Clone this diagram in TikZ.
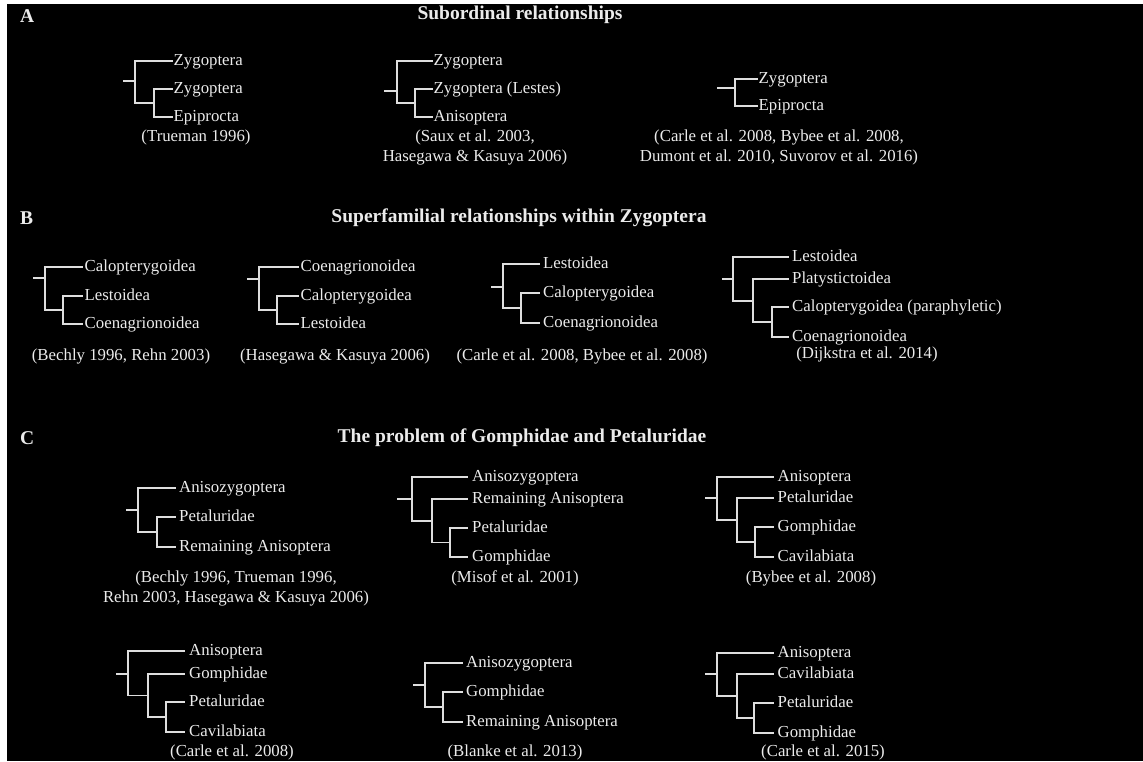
\documentclass[tikz,border=0pt]{standalone}
\usepackage{fontspec}
\setmainfont{Liberation Serif}
\definecolor{linec}{gray}{0.87}
\definecolor{txtc}{gray}{0.92}
\tikzset{
  br/.style={draw=linec, line width=1.8pt, line cap=rect},
  tx/.style={text=txtc, font=\fontsize{16.8}{20}\selectfont, inner sep=0pt},
  leaf/.style={tx, anchor=west, text height=9.4pt, text depth=0pt, inner xsep=2.5pt, inner ysep=0pt},
  cite/.style={tx, align=center},
  head/.style={text=txtc, font=\bfseries\fontsize{19.5}{22}\selectfont, inner sep=0pt},
}
\begin{document}
\begin{tikzpicture}[x=1pt,y=-1pt]
\useasboundingbox (0,0) rectangle (1143,761);
\fill[white] (0,0) rectangle (1143,761);
\fill[black] (7,4) rectangle (1143,761);

% ---------- Panel A ----------
\node[head, anchor=west] (pA) at (20,16) {A};
\node[head] (tA) at (520,15) {Subordinal relationships};

% A1
\coordinate (a1r) at (124,81);
\coordinate (a1n1) at (135,82);
\coordinate (a1n2) at (154,103);
\node[leaf, inner xsep=1.5pt] (a1a) at (172,61) {Zygoptera};
\node[leaf, inner xsep=1.5pt] (a1b) at (172,89) {Zygoptera};
\node[leaf, inner xsep=1.5pt] (a1c) at (172,117) {Epiprocta};
\draw[br] (a1a.west) -| (a1n1) |- (a1n2);
\draw[br] (a1b.west) -| (a1n2) |- (a1c.west);
\draw[br] (a1r) -- (a1r -| a1n1);
\node[cite] (a1t) at (196,137) {(Trueman 1996)};

% A2
\coordinate (a2r) at (385,91);
\coordinate (a2n1) at (397,82);
\coordinate (a2n2) at (415,103);
\node[leaf, inner xsep=1.5pt] (a2a) at (432,61) {Zygoptera};
\node[leaf, inner xsep=1.5pt] (a2b) at (432,89) {Zygoptera (Lestes)};
\node[leaf, inner xsep=1.5pt] (a2c) at (432,117) {Anisoptera};
\draw[br] (a2a.west) -| (a2n1) |- (a2n2);
\draw[br] (a2b.west) -| (a2n2) |- (a2c.west);
\draw[br] (a2r) -- (a2r -| a2n1);
\node[cite] (a2t) at (475,147) {(Saux et al. 2003,\\Hasegawa \& Kasuya 2006)};

% A3
\coordinate (a3r) at (718,88);
\coordinate (a3n1) at (735,92.5);
\node[leaf, inner xsep=1.5pt] (a3a) at (757,79) {Zygoptera};
\node[leaf, inner xsep=1.5pt] (a3b) at (757,106) {Epiprocta};
\draw[br] (a3a.west) -| (a3n1) |- (a3b.west);
\draw[br] (a3r) -- (a3r -| a3n1);
\node[cite] (a3t) at (779,147) {(Carle et al. 2008, Bybee et al. 2008,\\Dumont et al. 2010, Suvorov et al. 2016)};

% ---------- Panel B ----------
\node[head, anchor=west] (pB) at (20,218) {B};
\node[head] (tB) at (519,218) {Superfamilial relationships within Zygoptera};

% B1
\coordinate (b1r) at (34,278);
\coordinate (b1n1) at (45,288);
\coordinate (b1n2) at (63,310);
\node[leaf] (b1a) at (82,267) {Calopterygoidea};
\node[leaf] (b1b) at (82,296) {Lestoidea};
\node[leaf] (b1c) at (82,324) {Coenagrionoidea};
\draw[br] (b1a.west) -| (b1n1) |- (b1n2);
\draw[br] (b1b.west) -| (b1n2) |- (b1c.west);
\draw[br] (b1r) -- (b1r -| b1n1);
\node[cite] (b1t) at (121,356) {(Bechly 1996, Rehn 2003)};

% B2
\coordinate (b2r) at (248,279);
\coordinate (b2n1) at (259,288);
\coordinate (b2n2) at (277,310);
\node[leaf] (b2a) at (298,267) {Coenagrionoidea};
\node[leaf] (b2b) at (298,296) {Calopterygoidea};
\node[leaf] (b2c) at (298,324) {Lestoidea};
\draw[br] (b2a.west) -| (b2n1) |- (b2n2);
\draw[br] (b2b.west) -| (b2n2) |- (b2c.west);
\draw[br] (b2r) -- (b2r -| b2n1);
\node[cite] (b2t) at (335,356) {(Hasegawa \& Kasuya 2006)};

% B3
\coordinate (b3r) at (492,287);
\coordinate (b3n1) at (503,286);
\coordinate (b3n2) at (521,308);
\node[leaf, inner xsep=4pt] (b3a) at (539,264) {Lestoidea};
\node[leaf, inner xsep=4pt] (b3b) at (539,293) {Calopterygoidea};
\node[leaf, inner xsep=4pt] (b3c) at (539,323) {Coenagrionoidea};
\draw[br] (b3a.west) -| (b3n1) |- (b3n2);
\draw[br] (b3b.west) -| (b3n2) |- (b3c.west);
\draw[br] (b3r) -- (b3r -| b3n1);
\node[cite] (b3t) at (582,356) {(Carle et al. 2008, Bybee et al. 2008)};

% B4
\coordinate (b4r) at (723,279);
\coordinate (b4n1) at (733,279);
\coordinate (b4n2) at (753,301);
\coordinate (b4n3) at (772,322);
\node[leaf, inner xsep=4pt] (b4a) at (788,257) {Lestoidea};
\node[leaf, inner xsep=4pt] (b4b) at (788,279) {Platystictoidea};
\node[leaf, inner xsep=4pt] (b4c) at (788,307) {Calopterygoidea (paraphyletic)};
\node[leaf, inner xsep=4pt] (b4d) at (788,337) {Coenagrionoidea};
\draw[br] (b4a.west) -| (b4n1) |- (b4n2);
\draw[br] (b4b.west) -| (b4n2) |- (b4n3);
\draw[br] (b4c.west) -| (b4n3) |- (b4d.west);
\draw[br] (b4r) -- (b4r -| b4n1);
\node[cite] (b4t) at (867,354) {(Dijkstra et al. 2014)};

% ---------- Panel C ----------
\node[head, anchor=west] (pC) at (20,438) {C};
\node[head] (tC) at (522,438) {The problem of Gomphidae and Petaluridae};

% C1
\coordinate (c1r) at (127,510);
\coordinate (c1n1) at (138,510.5);
\coordinate (c1n2) at (157,532);
\node[leaf, inner xsep=4pt] (c1a) at (175,488) {Anisozygoptera};
\node[leaf, inner xsep=4pt] (c1b) at (175,517) {Petaluridae};
\node[leaf, inner xsep=4pt] (c1c) at (175,547) {Remaining Anisoptera};
\draw[br] (c1a.west) -| (c1n1) |- (c1n2);
\draw[br] (c1b.west) -| (c1n2) |- (c1c.west);
\draw[br] (c1r) -- (c1r -| c1n1);
\node[cite] (c1t) at (236,588) {(Bechly 1996, Trueman 1996,\\Rehn 2003, Hasegawa \& Kasuya 2006)};

% C2
\coordinate (c2r) at (398,499);
\coordinate (c2n1) at (412,499);
\coordinate (c2n2) at (432,521);
\coordinate (c2n3) at (450,542.5);
\node[leaf, inner xsep=5pt] (c2a) at (467,477) {Anisozygoptera};
\node[leaf, inner xsep=5pt] (c2b) at (467,499) {Remaining Anisoptera};
\node[leaf, inner xsep=5pt] (c2c) at (467,528) {Petaluridae};
\node[leaf, inner xsep=5pt] (c2d) at (467,557) {Gomphidae};
\draw[br] (c2a.west) -| (c2n1) |- (c2n2);
\draw[br] (c2b.west) -| (c2n2) |- (c2n3);
\draw[br] (c2c.west) -| (c2n3) |- (c2d.west);
\draw[br] (c2r) -- (c2r -| c2n1);
\node[cite] (c2t) at (515,578) {(Misof et al. 2001)};

% C3
\coordinate (c3r) at (706,498);
\coordinate (c3n1) at (717,498);
\coordinate (c3n2) at (737,520);
\coordinate (c3n3) at (755,542);
\node[leaf, inner xsep=4.5pt] (c3a) at (773,477) {Anisoptera};
\node[leaf, inner xsep=4.5pt] (c3b) at (773,498) {Petaluridae};
\node[leaf, inner xsep=4.5pt] (c3c) at (773,527) {Gomphidae};
\node[leaf, inner xsep=4.5pt] (c3d) at (773,557) {Cavilabiata};
\draw[br] (c3a.west) -| (c3n1) |- (c3n2);
\draw[br] (c3b.west) -| (c3n2) |- (c3n3);
\draw[br] (c3c.west) -| (c3n3) |- (c3d.west);
\draw[br] (c3r) -- (c3r -| c3n1);
\node[cite] (c3t) at (811,578) {(Bybee et al. 2008)};

% C4
\coordinate (c4r) at (117,674);
\coordinate (c4n1) at (128,673);
\coordinate (c4n2) at (148,695.5);
\coordinate (c4n3) at (166,717);
\node[leaf, inner xsep=5pt] (c4a) at (184,651) {Anisoptera};
\node[leaf, inner xsep=5pt] (c4b) at (184,674) {Gomphidae};
\node[leaf, inner xsep=5pt] (c4c) at (184,702) {Petaluridae};
\node[leaf, inner xsep=5pt] (c4d) at (184,732) {Cavilabiata};
\draw[br] (c4a.west) -| (c4n1) |- (c4n2);
\draw[br] (c4b.west) -| (c4n2) |- (c4n3);
\draw[br] (c4c.west) -| (c4n3) |- (c4d.west);
\draw[br] (c4r) -- (c4r -| c4n1);
\node[cite] (c4t) at (232,752) {(Carle et al. 2008)};

% C5
\coordinate (c5r) at (414,685);
\coordinate (c5n1) at (425,685);
\coordinate (c5n2) at (443,707);
\node[leaf, inner xsep=4pt] (c5a) at (462,663) {Anisozygoptera};
\node[leaf, inner xsep=4pt] (c5b) at (462,692) {Gomphidae};
\node[leaf, inner xsep=4pt] (c5c) at (462,722) {Remaining Anisoptera};
\draw[br] (c5a.west) -| (c5n1) |- (c5n2);
\draw[br] (c5b.west) -| (c5n2) |- (c5c.west);
\draw[br] (c5r) -- (c5r -| c5n1);
\node[cite] (c5t) at (515,752) {(Blanke et al. 2013)};

% C6
\coordinate (c6r) at (706,674);
\coordinate (c6n1) at (717,674);
\coordinate (c6n2) at (737,696);
\coordinate (c6n3) at (754,718);
\node[leaf, inner xsep=4.5pt] (c6a) at (773,653) {Anisoptera};
\node[leaf, inner xsep=4.5pt] (c6b) at (773,674) {Cavilabiata};
\node[leaf, inner xsep=4.5pt] (c6c) at (773,703) {Petaluridae};
\node[leaf, inner xsep=4.5pt] (c6d) at (773,733) {Gomphidae};
\draw[br] (c6a.west) -| (c6n1) |- (c6n2);
\draw[br] (c6b.west) -| (c6n2) |- (c6n3);
\draw[br] (c6c.west) -| (c6n3) |- (c6d.west);
\draw[br] (c6r) -- (c6r -| c6n1);
\node[cite] (c6t) at (823,752) {(Carle et al. 2015)};
\end{tikzpicture}
\end{document}
